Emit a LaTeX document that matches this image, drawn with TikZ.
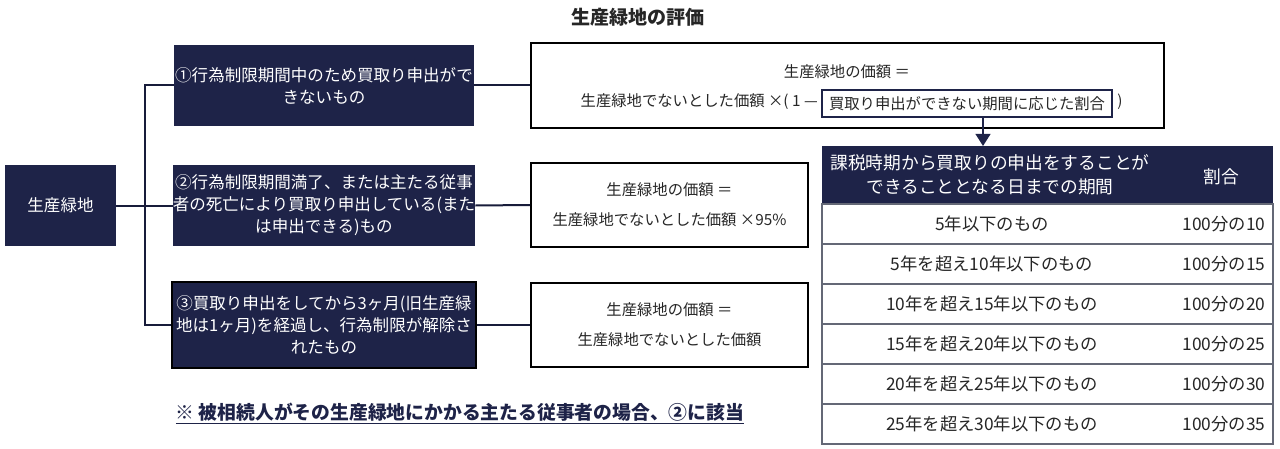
\documentclass[tikz,border=0pt]{standalone}
\usepackage{fontspec}
\setmainfont{Noto Sans CJK JP}
\usetikzlibrary{arrows.meta, positioning}

\definecolor{navy}{RGB}{30,35,72}
\definecolor{rulegray}{RGB}{100,104,118}
\definecolor{inktext}{RGB}{38,38,38}

\begin{document}
\begin{tikzpicture}[x=0.75pt, y=-0.75pt,
  darkbox/.style={rectangle, fill=navy, text=white, align=center, inner sep=0pt, font=\fontsize{12.4}{16.5}\selectfont},
  formula/.style={rectangle, draw=black, line width=1.5pt, fill=white, inner sep=0pt},
  ftext/.style={text=inktext, align=center, inner sep=0pt, font=\fontsize{11.5}{22.5}\selectfont},
  cell/.style={rectangle, draw=rulegray, line width=1pt, fill=white, minimum width=338.25pt, minimum height=30pt, inner sep=0pt},
  ctext/.style={text=inktext, inner sep=0pt, font=\fontsize{13}{16}\selectfont},
  link/.style={draw=navy!80!black, line width=1.5pt},
  arrow/.style={navy, line width=1.5pt, -{Triangle[width=11pt, length=9pt]}}
]
\useasboundingbox [fill=white] (0,0) rectangle (1280,449);

% title
\node (title) at (638,17) [text=inktext, font=\fontsize{14.3}{17}\selectfont\bfseries] {生産緑地の評価};

% left side
\node (root) at (60.5,205.5) [darkbox, minimum width=83.25pt, minimum height=60.75pt] {生産緑地};
\node (case1) at (324,85.5) [darkbox, minimum width=225pt, minimum height=60.75pt] {①行為制限期間中のため買取り申出がで\\きないもの};
\node (case2) at (324,205.5) [darkbox, minimum width=225pt, minimum height=60.75pt] {②行為制限期間満了、または主たる従事\\者の死亡により買取り申出している(また\\は申出できる)もの};
\node (case3) at (324,325) [darkbox, draw=black, line width=1.5pt, minimum width=228pt, minimum height=64.5pt] {③買取り申出をしてから3ヶ月(旧生産緑\\地は1ヶ月)を経過し、行為制限が解除さ\\れたもの};
\coordinate (trunk) at (145,0);

% formulas
\node (res1) at (847.5,85.5) [formula, minimum width=474.75pt, minimum height=63.75pt] {};
\node (res1top) at (847,72) [ftext] {生産緑地の価額 ＝};
\node (res1left) at (818,102) [ftext, anchor=east] {生産緑地でないとした価額 ×(~1 —};
\node (ratio) at (967,103.5) [ftext, draw=navy, line width=2pt, minimum width=217.5pt, minimum height=20.25pt] {買取り申出ができない期間に応じた割合};
\node (res1close) at (1117,102) [ftext, anchor=west] {)};
\node (res2) at (669.5,205) [formula, ftext, minimum width=207.75pt, minimum height=63pt] {生産緑地の価額 ＝\\生産緑地でないとした価額 ×95\%};
\node (res3) at (669.5,325) [formula, ftext, minimum width=207.75pt, minimum height=63pt] {生産緑地の価額 ＝\\生産緑地でないとした価額};

% table
\node (hdr) at (1047.5,175) [rectangle, fill=navy, minimum width=338.25pt, minimum height=43.5pt] {};
\node (hdrperiod) at (990,175) [text=white, align=center, inner sep=0pt, font=\fontsize{13.3}{18}\selectfont] {課税時期から買取りの申出をすることが\\できることとなる日までの期間};
\node (hdrrate) at (1221,177) [text=white, inner sep=0pt, font=\fontsize{13.3}{16}\selectfont] {割合};
\foreach \per/\rate [count=\i] in {5年以下のもの/10, 5年を超え10年以下のもの/15, 10年を超え15年以下のもの/20, 15年を超え20年以下のもの/25, 20年を超え25年以下のもの/30, 25年を超え30年以下のもの/35} {
  \node (row\i) at (1047.5,184+40*\i) [cell] {};
  \node (per\i) at (992,184+40*\i) [ctext] {\per};
  \node (rate\i) at (1224,184+40*\i) [ctext] {100分の\rate};
}
\coordinate (tip) at (983,146);

% connectors
\draw [link] (root.east) -- (case2.west);
\draw [link] (case1.west) -- (case1.west -| trunk) |- (case3.west);
\draw [link] (case1.east) -- (res1.west);
\draw [link] (case2.east) -- (res2.west);
\draw [link] (case3.east) -- (res3.west);
\draw [arrow] (ratio.south -| tip) -- (tip);

% note
\node (note) at (460,414) [text=navy, font=\fontsize{14.1}{17}\selectfont\bfseries] {\underline{※ 被相続人がその生産緑地にかかる主たる従事者の場合、②に該当}};

\end{tikzpicture}
\end{document}
